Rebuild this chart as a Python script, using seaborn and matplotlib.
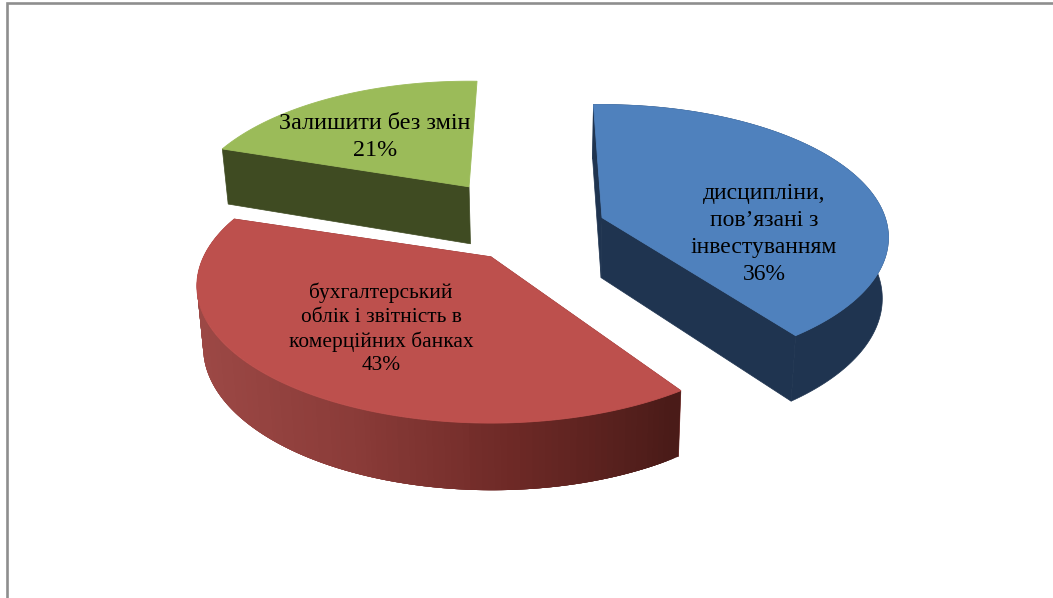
import numpy as np
from matplotlib import pyplot as plt
import seaborn as sns

# data
labels = ['дисципліни,\nпов’язані з\nінвестуванням',
          'бухгалтерський\nоблік і звітність в\nкомерційних банках',
          'Залишити без змін']
shares = [36, 43, 21]

# look of the slices
top_colors = ['#4f81bd', '#bd504d', '#9bbb59']
wall_colors = ['#1f3450', '#7a2e2b', '#3f4b22']
explode = [0.202, 0.286, 0.436]
nudge_y = [-3, 0, 1]
width_scale = [0.99, 1.005, 0.97]
persp = [0.15, 0.212, 0.212]
height = [130, 131, 128]
angle_fix = [(1, -2.6), (1.5, -0.5), (0, 5)]
depth = [60, 60, 57]
label_pos = [(764, 234), (381, 329), (375, 137)]
label_size = [17, 15.4, 17.4]
label_gap = [1.36, 1.31, 1.33]

# view of the tilted pie, in pixels
CX, CY = 548, 230
RX = 286
PERSP = 0.212


def warp(t):
    # the 3d view skews the angles a bit
    r = np.radians(t)
    return np.radians(t + 8 + 1.3 * np.sin(r) - 11 * np.cos(r))


def drop(x, y, ang, d):
    # lower edge of the slice wall
    d = d / (1 + 0.5 * PERSP * np.cos(ang))
    return x + (CX - x) * 0.018, y + d


sns.set_theme(style='white')
plt.rcParams['font.family'] = ['Liberation Serif', 'DejaVu Serif']

fig = plt.figure(figsize=(10.53, 5.98), dpi=100)
ax = fig.add_axes([0, 0, 1, 1])
ax.set_xlim(0, 1053)
ax.set_ylim(598, 0)
ax.axis('off')

# frame of the pasted chart, no right or bottom side
ax.plot([6.5, 6.5, 1053], [598, 3.2, 3.2], color='#8e8e8e', lw=1.9,
        solid_joinstyle='miter')

edges = np.cumsum([0] + shares) * 360 / sum(shares)
red_side = sns.blend_palette(['#9c4845', '#8a3b38', '#6d2926', '#4a1b18'],
                             80)

for i in [2, 0, 1]:
    t = np.linspace(edges[i], edges[i + 1], 161)
    ang = warp(t) + np.radians(np.linspace(*angle_fix[i], 161))
    mid = warp((edges[i] + edges[i + 1]) / 2)
    ax_x = CX + explode[i] * RX * np.sin(mid)
    ax_y = CY - explode[i] * 131 * np.cos(mid) + nudge_y[i]
    w = 1 + persp[i] * np.cos(ang)
    xs = ax_x + RX * width_scale[i] * np.sin(ang) / w
    ys = ax_y - height[i] * np.cos(ang) / w

    # flat cut walls, the green slice only shows its front one
    ends = [0] if i == 2 else [0, -1]
    for e in ends:
        x2, y2 = drop(xs[e], ys[e], ang[e], depth[i])
        x3, y3 = drop(ax_x, ax_y, np.pi / 2, depth[i])
        ax.fill([ax_x, xs[e], x2, x3], [ax_y, ys[e], y2, y3],
                color=wall_colors[i], lw=0.5)

    # curved wall
    bx, by = drop(xs, ys, ang, depth[i])
    if i == 1:
        # gradient along the rim, strips overlap so no seams show
        for j in range(len(xs) - 1):
            f = (xs[j] - xs.min()) / (xs.max() - xs.min())
            k = min(j + 4, len(xs) - 1)
            ax.fill(np.r_[xs[j:k + 1], bx[j:k + 1][::-1]],
                    np.r_[ys[j:k + 1], by[j:k + 1][::-1]],
                    color=red_side[min(int(f * 80), 79)], lw=0)
    elif i == 0:
        ax.fill(np.r_[xs, bx[::-1]], np.r_[ys, by[::-1]],
                color=wall_colors[i], lw=0.5)

    # top of the slice
    ax.fill(np.r_[ax_x, xs], np.r_[ax_y, ys], color=top_colors[i], lw=0.6)

for i in range(3):
    ax.text(label_pos[i][0], label_pos[i][1], f'{labels[i]}\n{shares[i]}%',
            ha='center', va='center', fontsize=label_size[i], color='black',
            linespacing=label_gap[i])

fig.savefig('out.png', dpi=100)
